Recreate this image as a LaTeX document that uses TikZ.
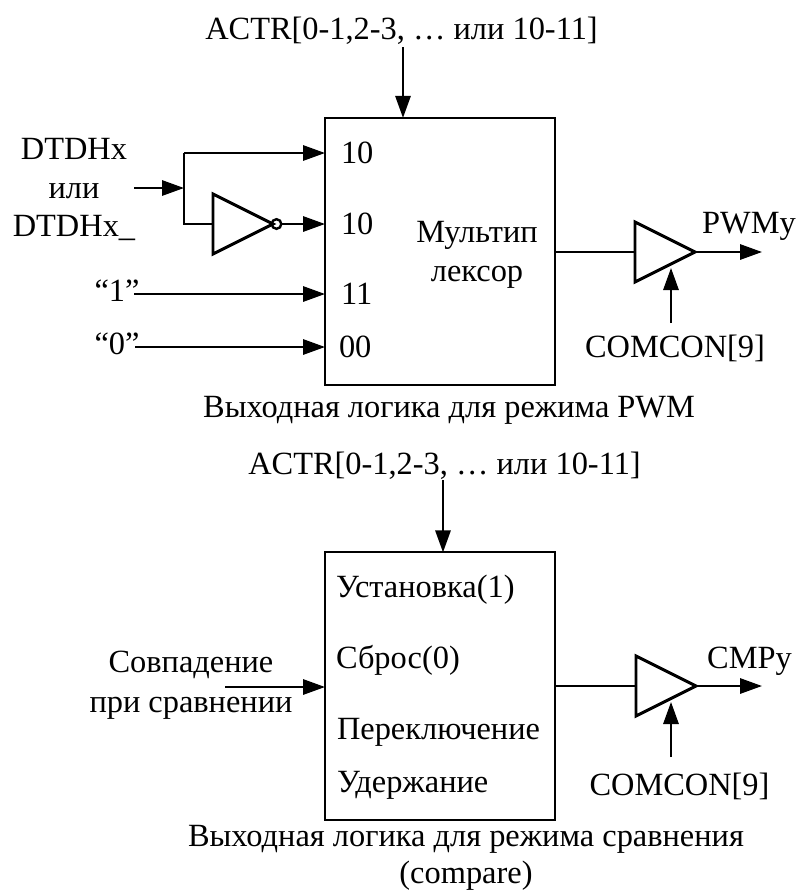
\documentclass[tikz,border=0pt]{standalone}
\usepackage{fontspec}
\setmainfont{Liberation Serif}
\usetikzlibrary{arrows.meta,shapes.geometric}

\begin{document}
\begin{tikzpicture}[
  x=0.75pt,y=-0.75pt,
  every node/.style={font=\fontsize{24.3pt}{28pt}\selectfont,inner sep=0pt,outer sep=0pt},
  block/.style={draw,line width=1.5pt,minimum width=172.5pt,minimum height=200.5pt},
  amp/.style={draw,line width=2.2pt,isosceles triangle,isosceles triangle stretches,shape border rotate=0,
              minimum width=45pt,minimum height=45pt,anchor=lower side},
  bubble/.style={draw,line width=1.8pt,circle,minimum size=7.2pt},
  lbl/.style={anchor=base},
  port/.style={anchor=base west},
  arr/.style={-{Triangle[length=16.5pt,width=11.5pt]},line width=1.5pt},
  wire/.style={line width=1.5pt}]
\useasboundingbox (0,0) rectangle (797,890);
% PWM part
\node[lbl] (actrA) at (401.5,39) {ACTR[0-1,2-3, … или 10-11]};
\node[block] (mux) at (440,251.5) {};
\node[lbl] (dtdhA) at (74,159) {DTDHx};
\node[lbl] (orA) at (74,198) {или};
\node[lbl] (dtdhB) at (74,236) {DTDHx\_};
\node[lbl] (one) at (117,301) {“1”};
\node[lbl] (zero) at (117,354) {“0”};
\node[port] (pa) at (341,163) {10};
\node[port] (pb) at (341,234) {10};
\node[port] (pc) at (341,304) {11};
\node[port] (pd) at (339,357) {00};
\node[lbl] (muxa) at (477,242) {Мультип};
\node[lbl] (muxb) at (477,281) {лексор};
\node[amp] (inv) at (213,224) {};
\node[bubble] (dot) at (276.5,224) {};
\node[amp] (bufA) at (635,252) {};
\node[lbl] (pwm) at (749,233) {PWMy};
\node[lbl] (comA) at (675,357) {COMCON[9]};
\node[lbl] (capA) at (449,417) {Выходная логика для режима PWM};
\coordinate (actrAend) at (403,47);
\coordinate (split) at (184,188);
\coordinate (dtdhIn) at (134,188);
\coordinate (oneIn) at (134,294);
\coordinate (zeroIn) at (135,347);
\coordinate (upA) at (184,153);
\coordinate (downA) at (184,224);
\coordinate (pwmEnd) at (762,252);
\coordinate (comAin) at (671,323);
\coordinate (comAtip) at (671,268);
\draw[arr] (actrAend) -- (actrAend |- mux.north);
\draw[arr] (dtdhIn) -- (split);
\draw[wire] (upA) -- (downA) -- (inv.lower side);
\draw[arr] (upA) -- (upA -| mux.west);
\draw[arr] (dot.east) -- (dot.east -| mux.west);
\draw[arr] (oneIn) -- (oneIn -| mux.west);
\draw[arr] (zeroIn) -- (zeroIn -| mux.west);
\draw[wire] (bufA.lower side -| mux.east) -- (bufA.lower side);
\draw[arr] (bufA.apex) -- (pwmEnd);
\draw[arr] (comAin) -- (comAtip);
% compare part
\node[lbl] (actrB) at (444.5,474) {ACTR[0-1,2-3, … или 10-11]};
\node[block] (cmp) at (440,686) {};
\node[port] (set) at (336,597) {Установка(1)};
\node[port] (rst) at (336,668) {Сброс(0)};
\node[port] (tgl) at (337,739) {Переключение};
\node[port] (hld) at (337,792) {Удержание};
\node[lbl] (mata) at (191,672) {Совпадение};
\node[lbl] (matb) at (191,712) {при сравнении};
\node[amp] (bufB) at (636,686) {};
\node[lbl] (cmpy) at (749.5,668) {CMPy};
\node[lbl] (comB) at (679.5,795) {COMCON[9]};
\node[lbl] (capB) at (466,846) {Выходная логика для режима сравнения};
\node[lbl] (capC) at (466,883) {(compare)};
\coordinate (actrBend) at (443,480);
\coordinate (matIn) at (225,687);
\coordinate (cmpEnd) at (762,686);
\coordinate (comBin) at (671,757);
\coordinate (comBtip) at (671,702);
\draw[arr] (actrBend) -- (actrBend |- cmp.north);
\draw[arr] (matIn) -- (matIn -| cmp.west);
\draw[wire] (bufB.lower side -| cmp.east) -- (bufB.lower side);
\draw[arr] (bufB.apex) -- (cmpEnd);
\draw[arr] (comBin) -- (comBtip);
\end{tikzpicture}
\end{document}
